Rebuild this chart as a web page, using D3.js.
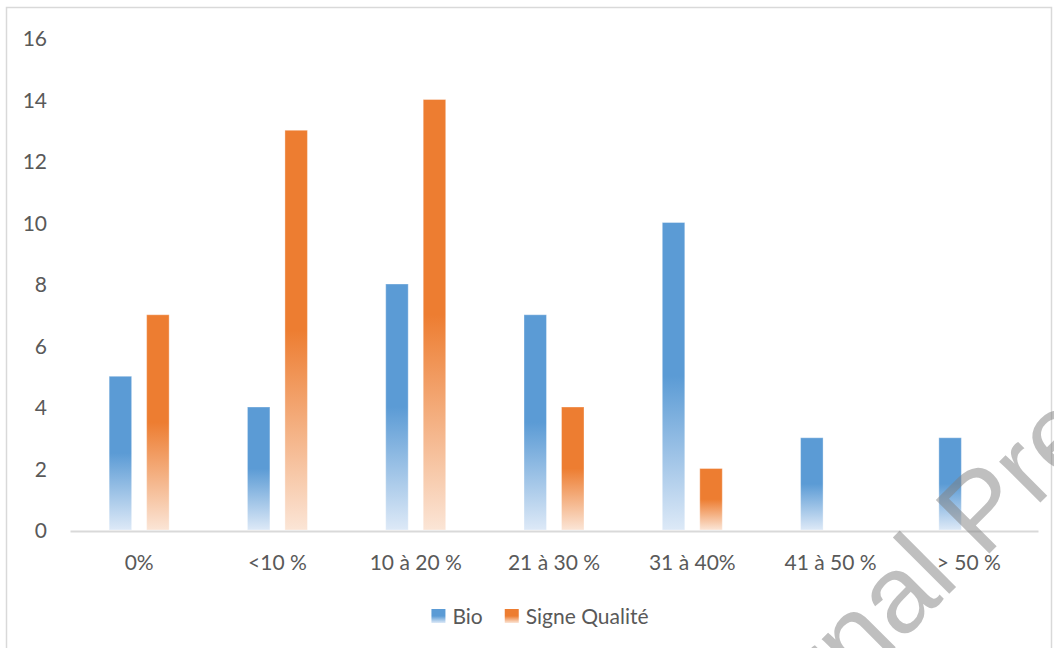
<!DOCTYPE html>
<html>
<head>
<meta charset="utf-8">
<script src="https://cdn.jsdelivr.net/npm/d3@7"></script>
<style>
  html, body { margin: 0; padding: 0; background: #fff; }
  svg { display: block; }
</style>
</head>
<body>
<svg id="chart" width="1054" height="648"></svg>
<script>
// Share of products by range, two series
const categories = ["0%", "<10 %", "10 à 20 %", "21 à 30 %", "31 à 40%", "41 à 50 %", "> 50 %"];
const bioValues = [5, 4, 8, 7, 10, 3, 3];
const qualiteValues = [7, 13, 14, 4, 2, 0, 0];
const seriesNames = ["Bio", "Signe Qualité"];
const seriesColors = ["#5b9bd5", "#ed7d31"];
const seriesLight = ["#dde9f7", "#fbe5d6"];
const yTicks = [0, 2, 4, 6, 8, 10, 12, 14, 16];
const watermarkText = "Journal Pre-proof";

const svg = d3.select("#chart");
const FONT = "Lato, 'Open Sans', sans-serif";
const TEXT_COLOR = "#595959";
const FS = 21;

const plot = { left: 70, right: 1038, top: 38, bottom: 530 };

const x0 = d3.scaleBand().domain(categories).range([plot.left, plot.right]);
const x1 = d3.scaleBand().domain(seriesNames).range([-30, 30]).paddingInner(0.4);
const y = d3.scaleLinear().domain([0, 16]).range([plot.bottom, plot.top]);

// vertical fade: solid top half, fading toward the base
const defs = svg.append("defs");
seriesNames.forEach((name, i) => {
  const g = defs.append("linearGradient")
    .attr("id", "grad" + i)
    .attr("x1", 0).attr("y1", 0).attr("x2", 0).attr("y2", 1);
  g.append("stop").attr("offset", 0).attr("stop-color", seriesColors[i]);
  g.append("stop").attr("offset", 0.5).attr("stop-color", seriesColors[i]);
  g.append("stop").attr("offset", 1).attr("stop-color", seriesLight[i]);
});

// chart frame
svg.append("rect")
  .attr("x", 6.5).attr("y", 7.5)
  .attr("width", 1045).attr("height", 700)
  .attr("fill", "none")
  .attr("stroke", "#d9d9d9")
  .attr("stroke-width", 1.5);

// y axis labels
const yAxis = svg.append("g")
  .attr("transform", `translate(${plot.left},0)`)
  .call(d3.axisLeft(y).tickValues(yTicks).tickSize(0).tickPadding(23));
yAxis.select(".domain").remove();
yAxis.selectAll("text")
  .attr("font-family", FONT).attr("font-size", FS)
  .attr("fill", TEXT_COLOR)
  .attr("dy", "0.36em");

// bars
const rows = categories.map((c, i) => ({
  cat: c,
  vals: [bioValues[i], qualiteValues[i]]
}));

const groups = svg.append("g").selectAll("g")
  .data(rows).join("g")
  .attr("transform", d => `translate(${x0(d.cat) + x0.bandwidth() / 2},0)`);

groups.selectAll("rect")
  .data(d => d.vals.map((v, i) => ({ name: seriesNames[i], v, i })).filter(e => e.v > 0))
  .join("rect")
  .attr("x", d => x1(d.name))
  .attr("width", x1.bandwidth())
  .attr("y", d => y(d.v))
  .attr("height", d => y(0) - y(d.v))
  .attr("fill", d => `url(#grad${d.i})`)
  .attr("stroke", "#ffffff")
  .attr("stroke-opacity", 0.35)
  .attr("stroke-width", 1);

// category axis
const xAxis = svg.append("g")
  .attr("transform", `translate(0,${plot.bottom + 1})`)
  .call(d3.axisBottom(x0).tickSize(0).tickSizeOuter(0).tickPadding(24));
xAxis.select(".domain")
  .attr("stroke", "#d9d9d9")
  .attr("stroke-width", 2);
xAxis.selectAll("text")
  .attr("font-family", FONT).attr("font-size", FS)
  .attr("fill", TEXT_COLOR);

// legend
const legend = svg.append("g");
const items = legend.selectAll("g").data(seriesNames).join("g");
items.append("rect")
  .attr("width", 14).attr("height", 14)
  .attr("y", 609)
  .attr("fill", (d, i) => `url(#grad${i})`);
items.append("text")
  .attr("y", 624)
  .attr("font-family", FONT).attr("font-size", FS)
  .attr("fill", TEXT_COLOR)
  .text(d => d);
let cursor = 0;
const offsets = [];
items.each(function () {
  const w = d3.select(this).select("text").node().getComputedTextLength();
  offsets.push(cursor);
  cursor += 14 + 7 + w + 22;
});
const total = cursor - 22;
const startX = 540 - total / 2;
items.attr("transform", (d, i) => `translate(${startX + offsets[i]},0)`);
items.select("text").attr("x", 21);

// diagonal overlay text
const wm = svg.append("text")
  .attr("font-family", "'Liberation Sans', Arial, sans-serif")
  .attr("font-size", 110)
  .attr("fill", "#808080")
  .attr("fill-opacity", 0.5)
  .text(watermarkText);
const lead = wm.node().getSubStringLength(0, 8);
wm.attr("x", -lead)
  .attr("transform", "translate(983,560) rotate(-45)");
</script>
</body>
</html>
